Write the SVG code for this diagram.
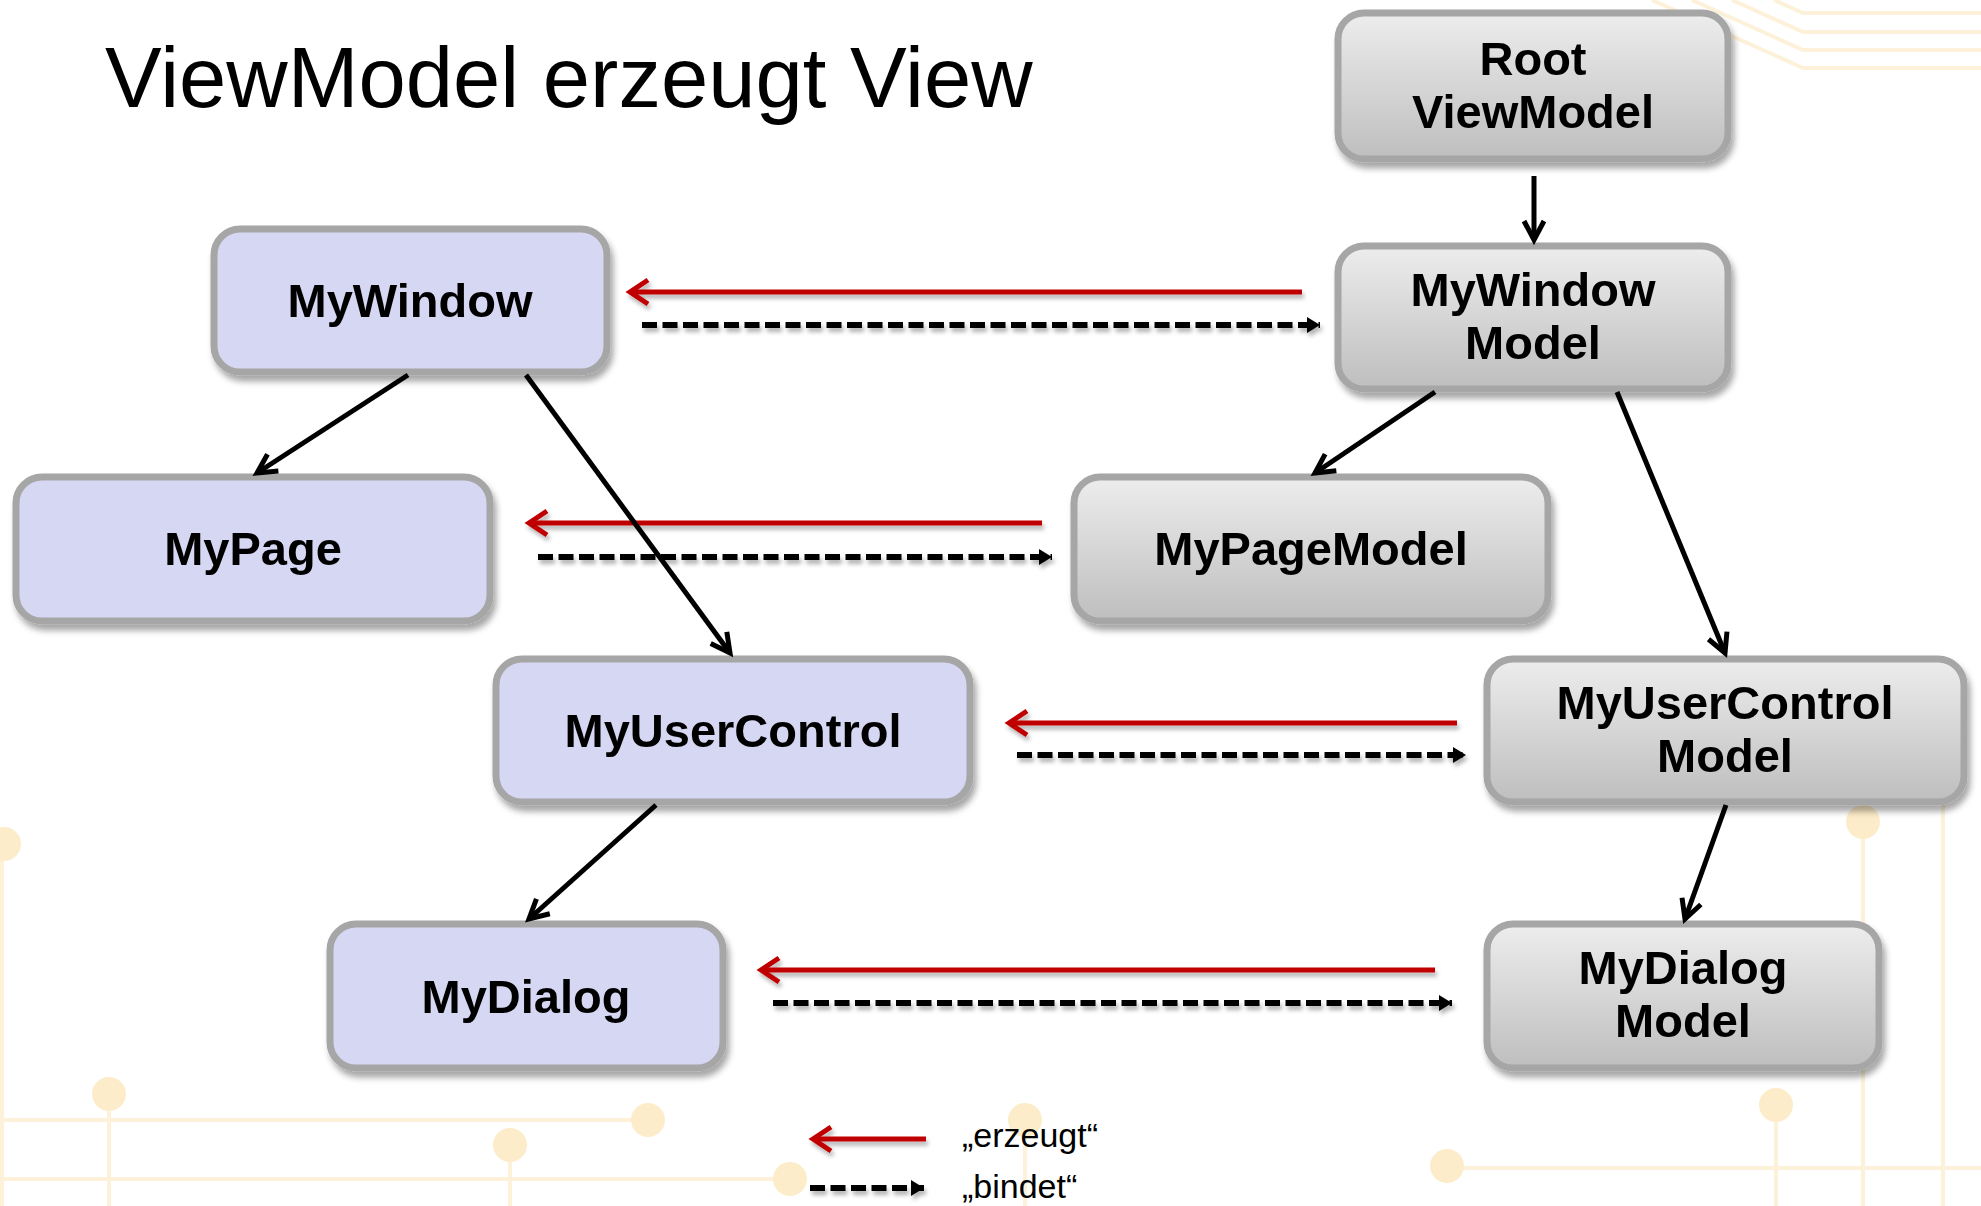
<svg xmlns="http://www.w3.org/2000/svg" width="1981" height="1206" viewBox="0 0 1981 1206">
  <defs>
    <linearGradient id="gradModel" x1="0" y1="0" x2="0" y2="1">
      <stop offset="0" stop-color="#ededed"/>
      <stop offset="1" stop-color="#bebebe"/>
    </linearGradient>
    <filter id="shadow" x="-10%" y="-10%" width="125%" height="135%">
      <feDropShadow dx="3" dy="6" stdDeviation="3" flood-color="#000" flood-opacity="0.35"/>
    </filter>
    <filter id="lineShadow" x="-5%" y="-50%" width="110%" height="300%">
      <feDropShadow dx="2" dy="4" stdDeviation="2" flood-color="#000" flood-opacity="0.3"/>
    </filter>
    <marker id="chevRed" markerUnits="userSpaceOnUse" viewBox="-24 -16 28 32" markerWidth="28" markerHeight="32" refX="0" refY="0" orient="auto" overflow="visible">
      <path d="M-18,-12 L0,0 L-18,12" fill="none" stroke="#c00000" stroke-width="5"/>
    </marker>
    <marker id="chevBlack" markerUnits="userSpaceOnUse" viewBox="-24 -16 28 32" markerWidth="28" markerHeight="32" refX="0" refY="0" orient="auto" overflow="visible">
      <path d="M-19,-10 L0,0 L-19,10" fill="none" stroke="#000" stroke-width="5"/>
    </marker>
    <marker id="triBlack" markerUnits="userSpaceOnUse" viewBox="-16 -10 18 20" markerWidth="18" markerHeight="20" refX="0" refY="0" orient="auto" overflow="visible">
      <path d="M-13,-8 L0,0 L-13,8 Z" fill="#000"/>
    </marker>
    <style>
      .deco { stroke: #fdf1da; stroke-width: 4; fill: none; }
      .dot { fill: #fdecc9; }
      .box rect { stroke: #a6a6a6; stroke-width: 7; }
      .view rect { fill: #d6d7f3; }
      .model rect { fill: url(#gradModel); }
      .label { font-family: "Liberation Sans", Arial, sans-serif; font-weight: bold; font-size: 47px; fill: #000; text-anchor: middle; }
      .title { font-family: "Liberation Sans", Arial, sans-serif; font-size: 85px; fill: #000; }
      .legend { font-family: "Liberation Sans", Arial, sans-serif; font-size: 34px; fill: #000; }
      .create { stroke: #c00000; stroke-width: 5; fill: none; marker-end: url(#chevRed); }
      .bind { stroke: #000; stroke-width: 6; fill: none; stroke-dasharray: 15 5.5; marker-end: url(#triBlack); }
      .child { stroke: #000; stroke-width: 5; fill: none; marker-end: url(#chevBlack); }
    </style>
  </defs>

  <rect width="1981" height="1206" fill="#ffffff"/>

  <!-- circuit-board background ornament -->
  <g id="background">
    <path class="deco" d="M1774,0 L1803,13 L1981,13"/>
    <path class="deco" d="M1732,0 L1803,32 L1981,32"/>
    <path class="deco" d="M1692,0 L1803,50 L1981,50"/>
    <path class="deco" d="M1652,0 L1803,68 L1981,68"/>
    <path class="deco" d="M0,1120 L648,1120"/>
    <path class="deco" d="M0,1179 L790,1179"/>
    <path class="deco" d="M109,1094 L109,1206"/>
    <path class="deco" d="M510,1145 L510,1206"/>
    <path class="deco" d="M1025,1120 L1025,1206"/>
    <path class="deco" d="M1447,1168 L1981,1168"/>
    <path class="deco" d="M1776,1105 L1776,1206"/>
    <path class="deco" d="M1863,822 L1863,1206"/>
    <path class="deco" d="M1943,790 L1943,1206"/>
    <path class="deco" d="M2,844 L2,1206"/>
    <circle class="dot" cx="4" cy="844" r="17"/>
    <circle class="dot" cx="109" cy="1094" r="17"/>
    <circle class="dot" cx="648" cy="1120" r="17"/>
    <circle class="dot" cx="510" cy="1145" r="17"/>
    <circle class="dot" cx="790" cy="1179" r="17"/>
    <circle class="dot" cx="1025" cy="1120" r="17"/>
    <circle class="dot" cx="1447" cy="1166" r="17"/>
    <circle class="dot" cx="1776" cy="1105" r="17"/>
    <circle class="dot" cx="1863" cy="822" r="17"/>
  </g>

  <text class="title" x="105" y="107">ViewModel erzeugt View</text>

  <!-- view-model side -->
  <g id="root-viewmodel" class="box model" filter="url(#shadow)">
    <rect x="1338" y="13" width="390" height="146" rx="26"/>
    <text class="label" x="1533" y="75">Root</text>
    <text class="label" x="1533" y="128">ViewModel</text>
  </g>
  <g id="mywindow-model" class="box model" filter="url(#shadow)">
    <rect x="1338" y="246" width="390" height="143" rx="26"/>
    <text class="label" x="1533" y="306">MyWindow</text>
    <text class="label" x="1533" y="359">Model</text>
  </g>
  <g id="mypage-model" class="box model" filter="url(#shadow)">
    <rect x="1074" y="477" width="474" height="144" rx="26"/>
    <text class="label" x="1311" y="565">MyPageModel</text>
  </g>
  <g id="myusercontrol-model" class="box model" filter="url(#shadow)">
    <rect x="1487" y="659" width="477" height="143" rx="26"/>
    <text class="label" x="1725" y="719">MyUserControl</text>
    <text class="label" x="1725" y="772">Model</text>
  </g>
  <g id="mydialog-model" class="box model" filter="url(#shadow)">
    <rect x="1487" y="924" width="392" height="144" rx="26"/>
    <text class="label" x="1683" y="984">MyDialog</text>
    <text class="label" x="1683" y="1037">Model</text>
  </g>

  <!-- view side -->
  <g id="mywindow" class="box view" filter="url(#shadow)">
    <rect x="214" y="229" width="393" height="143" rx="26"/>
    <text class="label" x="410" y="317">MyWindow</text>
  </g>
  <g id="mypage" class="box view" filter="url(#shadow)">
    <rect x="16" y="477" width="474" height="144" rx="26"/>
    <text class="label" x="253" y="565">MyPage</text>
  </g>
  <g id="myusercontrol" class="box view" filter="url(#shadow)">
    <rect x="496" y="659" width="474" height="143" rx="26"/>
    <text class="label" x="733" y="747">MyUserControl</text>
  </g>
  <g id="mydialog" class="box view" filter="url(#shadow)">
    <rect x="330" y="924" width="393" height="144" rx="26"/>
    <text class="label" x="526" y="1013">MyDialog</text>
  </g>

  <!-- connectors -->
  <g id="connectors">
    <g filter="url(#lineShadow)">
      <path class="create" d="M1302,292 L630,292"/>
      <path class="create" d="M1042,523 L529,523"/>
      <path class="create" d="M1457,723 L1009,723"/>
      <path class="create" d="M1435,970 L761,970"/>
      <path class="bind" d="M642,325 L1320,325"/>
      <path class="bind" d="M538,557 L1052,557"/>
      <path class="bind" d="M1017,755 L1466,755"/>
      <path class="bind" d="M773,1003 L1452,1003"/>
    </g>
    <path class="child" d="M1534,176 L1534,240"/>
    <path class="child" d="M408,375 L257,473"/>
    <path class="child" d="M526,375 L730,653"/>
    <path class="child" d="M1435,392 L1315,473"/>
    <path class="child" d="M1617,392 L1725,653"/>
    <path class="child" d="M656,805 L529,919"/>
    <path class="child" d="M1726,805 L1685,919"/>
  </g>

  <!-- legend -->
  <g id="legend">
    <g filter="url(#lineShadow)">
      <path class="create" d="M926,1139 L813,1139"/>
      <path class="bind" d="M810,1188 L924,1188"/>
    </g>
    <text class="legend" x="962" y="1147">„erzeugt“</text>
    <text class="legend" x="962" y="1198">„bindet“</text>
  </g>
</svg>
